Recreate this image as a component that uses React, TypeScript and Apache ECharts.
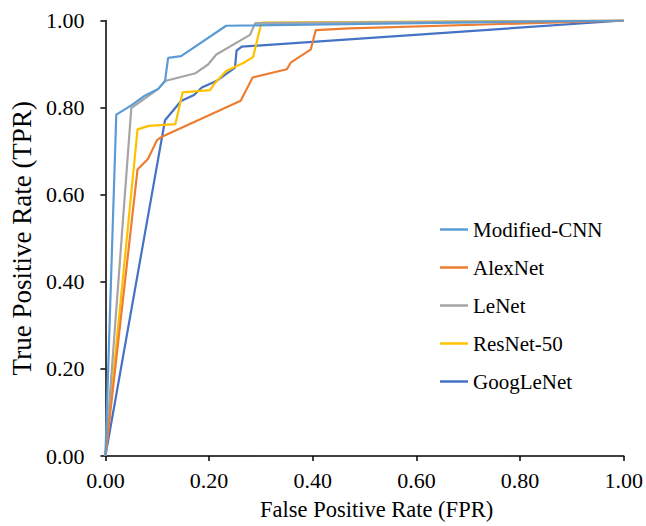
import React, { useEffect, useRef } from "react";
import * as echarts from "echarts";

const seriesNames = ["Modified-CNN", "AlexNet", "LeNet", "ResNet-50", "GoogLeNet"];
const seriesColors = ["#5B9BD5", "#ED7D31", "#A5A5A5", "#FFC000", "#4472C4"];

const modifiedCnnFpr = [0, 0.021, 0.05, 0.074, 0.102, 0.115, 0.121, 0.146, 0.233, 1.0];
const modifiedCnnTpr = [0, 0.784, 0.805, 0.826, 0.843, 0.861, 0.914, 0.918, 0.988, 1.0];

const alexNetFpr = [0, 0.062, 0.082, 0.1, 0.109, 0.261, 0.284, 0.35, 0.358, 0.396, 0.406, 0.471, 1.0];
const alexNetTpr = [0, 0.658, 0.682, 0.726, 0.733, 0.816, 0.869, 0.888, 0.904, 0.933, 0.978, 0.982, 1.0];

const leNetFpr = [0, 0.05, 0.102, 0.115, 0.174, 0.198, 0.214, 0.279, 0.289, 1.0];
const leNetTpr = [0, 0.799, 0.843, 0.861, 0.879, 0.899, 0.922, 0.967, 0.994, 1.0];

const resNetFpr = [0, 0.062, 0.084, 0.135, 0.149, 0.202, 0.211, 0.233, 0.267, 0.285, 0.293, 0.301, 1.0];
const resNetTpr = [0, 0.75, 0.758, 0.762, 0.835, 0.84, 0.856, 0.884, 0.903, 0.916, 0.956, 0.995, 1.0];

const googLeNetFpr = [0, 0.115, 0.146, 0.171, 0.186, 0.214, 0.25, 0.253, 0.263, 1.0];
const googLeNetTpr = [0, 0.771, 0.815, 0.829, 0.846, 0.861, 0.892, 0.931, 0.94, 1.0];

const allFpr = [modifiedCnnFpr, alexNetFpr, leNetFpr, resNetFpr, googLeNetFpr];
const allTpr = [modifiedCnnTpr, alexNetTpr, leNetTpr, resNetTpr, googLeNetTpr];

const xTitle = "False Positive Rate (FPR)";
const yTitle = "True Positive Rate (TPR)";

const FONT = "'Liberation Serif', 'Times New Roman', serif";

export default function App() {
  const ref = useRef<HTMLDivElement>(null);
  useEffect(() => {
    if (!ref.current) return;
    const chart = echarts.init(ref.current, undefined, { renderer: "svg" });
    const axisCommon = {
      min: 0,
      max: 1,
      interval: 0.2,
      axisLine: { show: true, lineStyle: { color: "#000", width: 1.5 } },
      axisTick: { show: true, length: 5, lineStyle: { color: "#000", width: 1.5 } },
      splitLine: { show: false },
      axisLabel: {
        color: "#000",
        fontFamily: FONT,
        fontSize: 22,
        formatter: (v: number) => v.toFixed(2),
      },
      nameLocation: "middle" as const,
    };
    chart.setOption({
      animation: false,
      backgroundColor: "#fff",
      grid: { left: 86.7, right: 22, top: 20.5, bottom: 64, containLabel: false },
      legend: {
        orient: "vertical",
        left: 440,
        top: 219,
        padding: 0,
        itemWidth: 28,
        itemHeight: 2.5,
        itemGap: 17,
        icon: "rect",
        textStyle: { color: "#000", fontFamily: FONT, fontSize: 21 },
        data: seriesNames,
      },
      xAxis: {
        type: "value",
        ...axisCommon,
        name: xTitle,
        nameGap: 42,
        nameTextStyle: { color: "#000", fontFamily: FONT, fontSize: 22.5, padding: [0, 0, 0, 24] },
        axisLabel: { ...axisCommon.axisLabel, margin: 13 },
      },
      yAxis: {
        type: "value",
        ...axisCommon,
        name: yTitle,
        nameGap: 57,
        nameTextStyle: { color: "#000", fontFamily: FONT, fontSize: 27 },
        axisLabel: { ...axisCommon.axisLabel, margin: 21 },
      },
      series: seriesNames.map((name, i) => ({
        name,
        type: "line",
        showSymbol: false,
        symbol: "none",
        color: seriesColors[i],
        lineStyle: { width: 2.2, color: seriesColors[i] },
        data: allFpr[i].map((x, j) => [x, allTpr[i][j]]),
        z: 10 - i,
      })),
    });
    return () => chart.dispose();
  }, []);
  return <div ref={ref} style={{ width: 646, height: 526, position: "absolute", left: 0, top: 0 }} />;
}
